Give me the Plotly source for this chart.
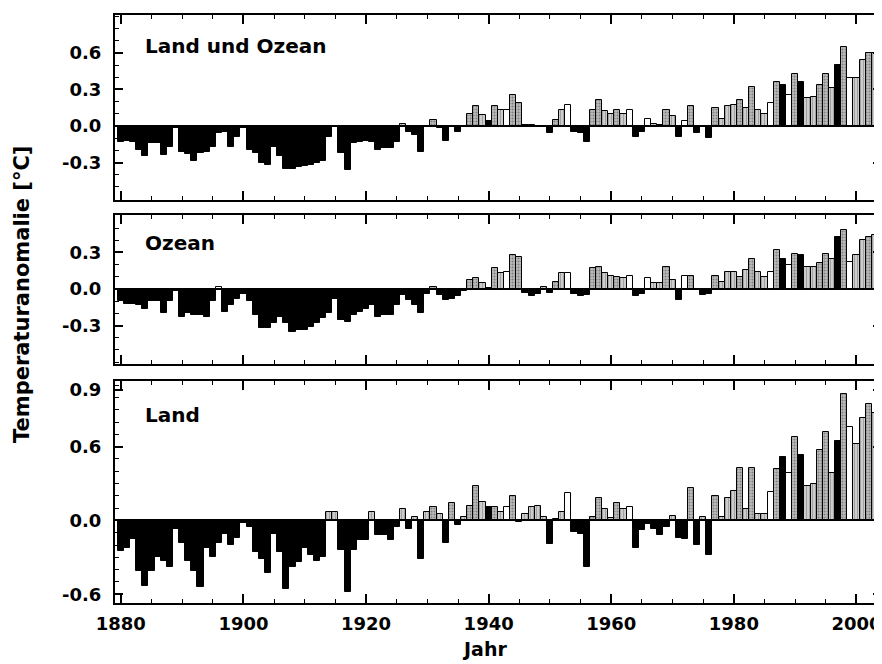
import plotly.graph_objects as go

YEARS = list(range(1880, 2005))

LAND_OCEAN = [
    -0.13, -0.12, -0.13, -0.20, -0.25, -0.14, -0.14, -0.24, -0.17, -0.02,
    -0.21, -0.23, -0.29, -0.22, -0.21, -0.17, -0.06, -0.05, -0.17, -0.09,
    -0.02, -0.20, -0.22, -0.30, -0.32, -0.17, -0.25, -0.35, -0.35, -0.34,
    -0.33, -0.32, -0.30, -0.29, -0.09, -0.01, -0.22, -0.36, -0.14, -0.13,
    -0.12, -0.13, -0.20, -0.18, -0.18, -0.13, 0.02, -0.05, -0.07, -0.21,
    -0.01, 0.05, -0.02, -0.12, -0.01, -0.05, -0.01, 0.10, 0.16, 0.09,
    0.04, 0.16, 0.13, 0.13, 0.25, 0.19, 0.01, 0.01, -0.01, -0.01,
    -0.06, 0.05, 0.13, 0.17, -0.05, -0.06, -0.13, 0.13, 0.21, 0.12,
    0.10, 0.13, 0.10, 0.13, -0.09, -0.05, 0.06, 0.02, 0.01, 0.13,
    0.08, -0.09, 0.04, 0.16, -0.06, -0.01, -0.10, 0.15, 0.06, 0.16,
    0.17, 0.21, 0.15, 0.32, 0.13, 0.10, 0.19, 0.36, 0.34, 0.25,
    0.43, 0.36, 0.23, 0.24, 0.34, 0.43, 0.31, 0.50, 0.65, 0.39,
    0.39, 0.54, 0.60, 0.60, 0.61,
]

OCEAN = [
    -0.10, -0.12, -0.12, -0.13, -0.16, -0.10, -0.10, -0.20, -0.10, -0.02,
    -0.23, -0.20, -0.21, -0.21, -0.23, -0.10, 0.02, -0.19, -0.13, -0.08,
    -0.04, -0.10, -0.21, -0.32, -0.32, -0.28, -0.23, -0.28, -0.35, -0.34,
    -0.34, -0.31, -0.28, -0.24, -0.20, -0.08, -0.25, -0.27, -0.21, -0.19,
    -0.16, -0.13, -0.23, -0.21, -0.21, -0.13, -0.05, -0.09, -0.13, -0.20,
    -0.04, 0.02, -0.05, -0.09, -0.08, -0.06, -0.02, 0.07, 0.09, 0.05,
    0.01, 0.17, 0.13, 0.14, 0.28, 0.26, -0.03, -0.06, -0.04, 0.02,
    -0.03, 0.06, 0.13, 0.13, -0.04, -0.06, -0.05, 0.17, 0.18, 0.13,
    0.11, 0.10, 0.09, 0.11, -0.06, -0.04, 0.09, 0.05, 0.05, 0.18,
    0.07, -0.09, 0.11, 0.11, -0.01, -0.05, -0.04, 0.11, 0.06, 0.14,
    0.14, 0.10, 0.16, 0.25, 0.14, 0.10, 0.14, 0.32, 0.25, 0.20,
    0.29, 0.28, 0.18, 0.18, 0.21, 0.29, 0.25, 0.43, 0.48, 0.22,
    0.28, 0.40, 0.43, 0.44, 0.44,
]

LAND = [
    -0.25, -0.22, -0.15, -0.41, -0.53, -0.41, -0.30, -0.33, -0.38, -0.07,
    -0.18, -0.33, -0.41, -0.54, -0.22, -0.30, -0.18, -0.11, -0.20, -0.14,
    -0.02, -0.05, -0.26, -0.31, -0.43, -0.11, -0.26, -0.56, -0.38, -0.34,
    -0.22, -0.28, -0.33, -0.30, 0.07, 0.07, -0.24, -0.58, -0.24, -0.16,
    -0.16, 0.07, -0.12, -0.12, -0.16, -0.05, 0.09, -0.07, 0.03, -0.31,
    0.07, 0.11, 0.05, -0.18, 0.14, -0.04, 0.03, 0.12, 0.28, 0.15,
    0.11, 0.11, 0.07, 0.11, 0.20, -0.01, 0.05, 0.11, 0.12, 0.03,
    -0.19, 0.01, 0.07, 0.22, -0.09, -0.11, -0.38, 0.03, 0.18, 0.09,
    0.02, 0.14, 0.09, 0.11, -0.22, -0.08, -0.03, -0.07, -0.12, -0.05,
    0.04, -0.14, -0.15, 0.26, -0.20, 0.03, -0.28, 0.20, 0.03, 0.18,
    0.24, 0.43, 0.09, 0.43, 0.05, 0.05, 0.23, 0.42, 0.52, 0.39,
    0.68, 0.53, 0.28, 0.30, 0.57, 0.72, 0.39, 0.65, 1.03, 0.76,
    0.62, 0.83, 0.95, 0.87, 0.87,
]

# fill style of positive bars: W white, G grey stipple, B black, H hatched (default)
FILL_CODE = {
    1896: "W", 1931: "G", 1934: "G", 1937: "G", 1938: "G", 1940: "B", 1941: "G",
    1943: "W", 1944: "G", 1945: "G", 1951: "G", 1953: "W", 1957: "G", 1958: "G",
    1961: "G", 1963: "W", 1966: "W", 1969: "G", 1972: "W", 1973: "G", 1977: "G",
    1981: "G", 1983: "G", 1986: "W", 1987: "G", 1988: "B", 1989: "W", 1990: "G",
    1991: "B", 1994: "G", 1995: "G", 1997: "B", 1998: "G", 1999: "W", 2002: "G",
}

PANEL_TITLES = ["Land und Ozean", "Ozean", "Land"]
X_TICK_VALS = [1880, 1900, 1920, 1940, 1960, 1980, 2000]
X_TICK_TEXT = ["1880", "1900", "1920", "1940", "1960", "1980", "2000"]
Y_TICK_VALS = [[-0.3, 0.0, 0.3, 0.6], [-0.3, 0.0, 0.3], [-0.6, 0.0, 0.6, 1.06]]
Y_TICK_TEXT = [["-0.3", "0.0", "0.3", "0.6"], ["-0.3", "0.0", "0.3"], ["-0.6", "0.0", "0.6", "0.9"]]
X_TITLE = "Jahr"
Y_TITLE = "Temperaturanomalie [°C]"

# the page body adds an 8 px offset; the figure is sized to fill the rest of the window
OFF = 8
W, H = 882 - OFF, 664 - OFF
ML, MR, MT, MB = 115 - OFF, 1, 15 - OFF, 61
PW, PH = W - ML - MR, H - MT - MB

def yfrac(px):   # px in window coordinates
    return (603 - px) / PH

def xfrac(px):
    return (px - 115) / PW

# panel pixel frames (top, bottom) in window coordinates and y-ranges
FRAMES = [(15, 200), (215, 364), (381, 603)]
Y_RANGES = [[-0.607, 0.91], [-0.615, 0.607], [-0.671, 1.134]]

def styles(vals):
    colors, shapes, fgs, sols, sizes = [], [], [], [], []
    for yr, v in zip(YEARS, vals):
        code = FILL_CODE.get(yr, "H")
        if v < 0 or code == "B":
            colors.append("black"); shapes.append(""); fgs.append("black"); sols.append(0.3); sizes.append(4)
        elif code == "W":
            colors.append("white"); shapes.append(""); fgs.append("black"); sols.append(0.3); sizes.append(4)
        elif code == "G":
            colors.append("#bdbdbd"); shapes.append("."); fgs.append("#333333"); sols.append(0.4); sizes.append(3)
        else:
            colors.append("white"); shapes.append("|"); fgs.append("black"); sols.append(0.7); sizes.append(3)
    return colors, shapes, fgs, sols, sizes

fig = go.Figure()
for i, vals in enumerate([LAND_OCEAN, OCEAN, LAND]):
    c, s, fg, so, sz = styles(vals)
    sfx = "" if i == 0 else str(i + 1)
    fig.add_trace(go.Bar(
        x=YEARS, y=vals, width=1.0,
        xaxis="x" + sfx, yaxis="y" + sfx,
        marker=dict(color=c, line=dict(color="black", width=1),
                    pattern=dict(shape=s, fgcolor=fg, solidity=so, size=sz, fillmode="overlay")),
        showlegend=False, hoverinfo="x+y",
    ))

tickfont = dict(family="DejaVu Sans", size=18, color="black", weight="bold")
layout = dict(
    width=W, height=H, margin=dict(l=ML, r=MR, t=MT, b=MB, autoexpand=False),
    paper_bgcolor="white", plot_bgcolor="white", bargap=0,
)
for i in range(3):
    sfx = "" if i == 0 else str(i + 1)
    top, bot = FRAMES[i]
    dom = [yfrac(bot), yfrac(top)]
    xa = dict(
        domain=[0, 1], anchor="y" + sfx, range=[1879.05, 2004.0], automargin=False,
        tickmode="array", tickvals=X_TICK_VALS, ticktext=X_TICK_TEXT,
        showticklabels=(i == 2), ticks="inside", ticklen=9, tickwidth=1.5, tickcolor="black",
        minor=dict(tickmode="linear", tick0=1880, dtick=5, ticks="inside", ticklen=4, tickwidth=1, tickcolor="black"),
        showline=True, linewidth=2, linecolor="black", mirror="ticks",
        showgrid=False, zeroline=False, tickfont=tickfont, ticklabelstandoff=3,
    )
    if i > 0:
        xa["matches"] = "x"
    layout["xaxis" + sfx] = xa
    lo, hi = Y_RANGES[i]
    minor_vals = [round(k * 0.1, 2) for k in range(-7, 12) if lo < k * 0.1 < hi]
    layout["yaxis" + sfx] = dict(
        domain=dom, anchor="x" + sfx, range=Y_RANGES[i], automargin=False,
        tickmode="array", tickvals=Y_TICK_VALS[i], ticktext=Y_TICK_TEXT[i],
        ticks="inside", ticklen=8, tickwidth=1.5, tickcolor="black",
        minor=dict(tickmode="array", tickvals=minor_vals, ticks="inside", ticklen=4, tickwidth=1, tickcolor="black"),
        showline=True, linewidth=2, linecolor="black", mirror="ticks",
        showgrid=False, zeroline=True, zerolinecolor="black", zerolinewidth=2,
        tickfont=tickfont, ticklabelstandoff=8,
    )
fig.update_layout(**layout)

title_y = [46, 243, 415]
for t, py in zip(PANEL_TITLES, title_y):
    fig.add_annotation(text=t, xref="paper", yref="paper", x=xfrac(143), y=yfrac(py),
                       xanchor="left", yanchor="middle", showarrow=False,
                       font=dict(family="DejaVu Sans", size=20, color="black", weight="bold"))
fig.add_annotation(text=X_TITLE, xref="paper", yref="paper", x=xfrac(484), y=yfrac(649),
                   xanchor="center", yanchor="middle", showarrow=False,
                   font=dict(family="DejaVu Sans", size=19, color="black", weight="bold"))
fig.add_annotation(text=Y_TITLE, xref="paper", yref="paper", x=xfrac(22), y=yfrac(295),
                   xanchor="center", yanchor="middle", showarrow=False, textangle=-90,
                   font=dict(family="DejaVu Sans", size=21, color="black", weight="bold"))

fig.write_html("out.html")
